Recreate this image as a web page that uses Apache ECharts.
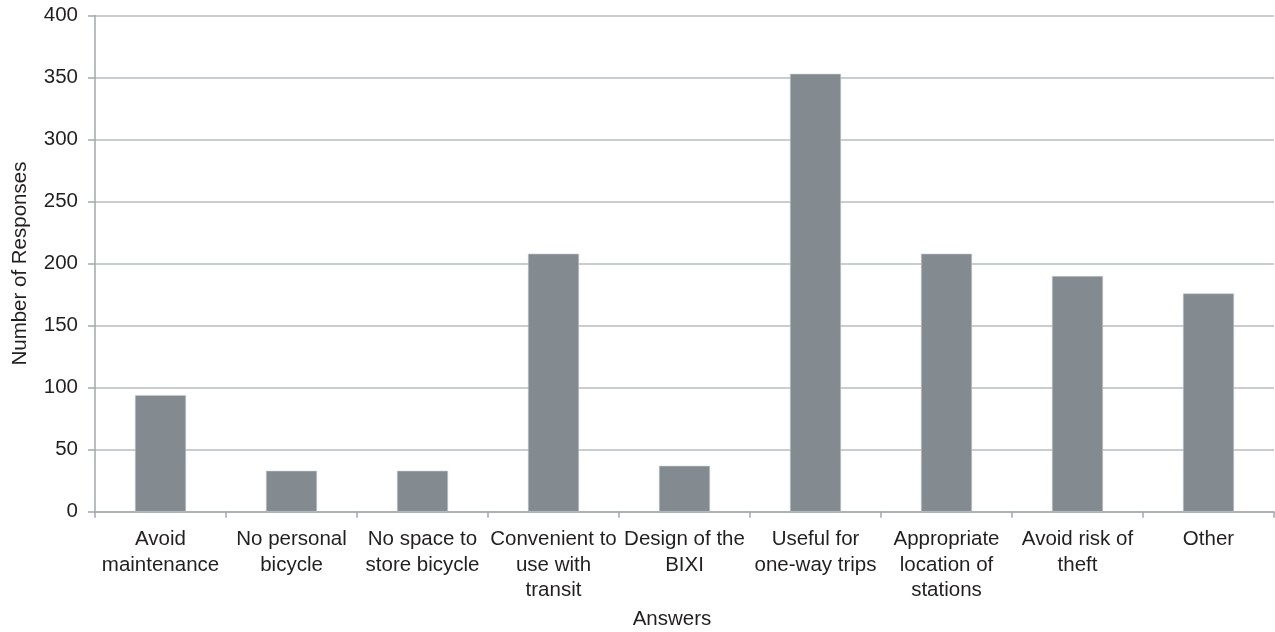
<!DOCTYPE html>
<html>
<head>
<meta charset="utf-8">
<script src="https://cdn.jsdelivr.net/npm/echarts@6/dist/echarts.min.js"></script>
<style>
html,body{margin:0;padding:0;background:#fff;}
#chart{width:1275px;height:632px;}
</style>
</head>
<body>
<div id="chart"></div>
<script>
const categories = [
  "Avoid\nmaintenance",
  "No personal\nbicycle",
  "No space to\nstore bicycle",
  "Convenient to\nuse with\ntransit",
  "Design of the\nBIXI",
  "Useful for\none-way trips",
  "Appropriate\nlocation of\nstations",
  "Avoid risk of\ntheft",
  "Other"
];
const responses = [94, 33, 33, 208, 37, 353, 208, 190, 176];
const yTicks = { min: 0, max: 400, interval: 50 };

const chart = echarts.init(document.getElementById('chart'));
const axisGray = '#a3a8ad';
const textColor = '#231f20';
const font = 'Liberation Sans, Arial, sans-serif';
const fs = 20.5;
chart.setOption({
  animation: false,
  grid: { left: 95, right: 1, top: 15.5, bottom: 120.3, containLabel: false, outerBoundsMode: 'none' },
  xAxis: {
    type: 'category',
    data: categories,
    name: 'Answers',
    nameLocation: 'middle',
    nameGap: 97,
    nameTextStyle: { fontSize: fs, color: textColor, fontFamily: font, padding: [0, 25, 0, 0] },
    axisLine: { lineStyle: { color: axisGray, width: 1.5 } },
    axisTick: { show: true, length: 6, lineStyle: { color: axisGray, width: 1.5 } },
    axisLabel: { interval: 0, fontSize: fs, color: textColor, fontFamily: font, lineHeight: 25.5, margin: 15 }
  },
  yAxis: {
    type: 'value',
    min: yTicks.min,
    max: yTicks.max,
    interval: yTicks.interval,
    name: 'Number of Responses',
    nameLocation: 'middle',
    nameGap: 64,
    nameTextStyle: { fontSize: fs, color: textColor, fontFamily: font },
    axisLine: { show: true, lineStyle: { color: axisGray, width: 1.5 } },
    axisTick: { show: true, length: 7, lineStyle: { color: axisGray, width: 1.5 } },
    axisLabel: { fontSize: fs, color: textColor, fontFamily: font, margin: 17 },
    splitLine: { lineStyle: { color: '#b8bcc0', width: 1.5 } }
  },
  series: [{
    type: 'bar',
    data: responses,
    barWidth: '39%',
    itemStyle: { color: '#838a90', borderColor: '#c8ccd0', borderWidth: 0.6 }
  }]
});
</script>
</body>
</html>
